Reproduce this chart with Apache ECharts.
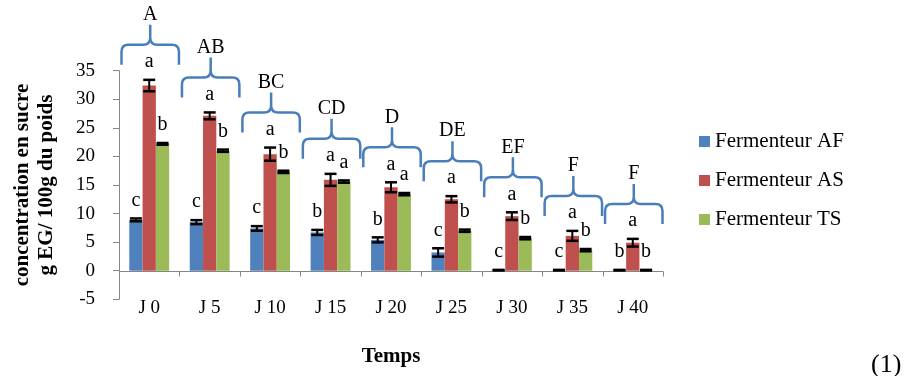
<!DOCTYPE html>
<html>
<head>
<meta charset="utf-8">
<script src="https://cdn.jsdelivr.net/npm/echarts@6/dist/echarts.min.js"></script>
<style>html,body{margin:0;padding:0;background:#fff}#c{width:907px;height:376px}</style>
</head>
<body>
<div id="c"></div>
<script>
const categories = ['J 0','J 5','J 10','J 15','J 20','J 25','J 30','J 35','J 40'];
const seriesNames = ['Fermenteur AF','Fermenteur AS','Fermenteur TS'];
const valuesAF = [8.9, 8.5, 7.4, 6.7, 5.4, 3.2, 0.1, 0.1, 0.1];
const errorsAF = [0.25, 0.35, 0.4, 0.44, 0.44, 0.73, 0.05, 0.05, 0.05];
const valuesAS = [32.4, 27.1, 20.4, 15.9, 14.6, 12.5, 9.55, 6.1, 4.9];
const errorsAS = [1.0, 0.6, 1.15, 1.05, 0.87, 0.55, 0.67, 0.87, 0.67];
const valuesTS = [22.2, 21.0, 17.3, 15.6, 13.4, 7.0, 5.7, 3.6, 0.1];
const errorsTS = [0.15, 0.2, 0.2, 0.2, 0.2, 0.2, 0.2, 0.2, 0.05];
const lettersAF = ['c','c','c','b','b','c','c','c','b'];
const lettersAS = ['a','a','a','a','a','a','a','a','a'];
const lettersTS = ['b','b','b','a','a','b','b','b','b'];
const groupLetters = ['A','AB','BC','CD','D','DE','EF','F','F'];
const yTicks = {min: -5, max: 35, interval: 5};

const FONT = 'Liberation Serif';
const colors = ['#4F81BD', '#C0504D', '#9BBB59'];
const AXIS_GRAY = '#868686';

function errSeries(vals, errs, letters, k) {
  return {
    type: 'custom',
    z: 10,
    clip: false,
    silent: true,
    renderItem: function (params, api) {
      const i = api.value(0), v = api.value(1), e = api.value(2);
      const cw = api.size([1, 0])[0];
      const bw = cw * 0.22;
      const x = api.coord([i, v])[0] + k * bw;
      const yTop = api.coord([i, v + e])[1];
      const yBot = api.coord([i, v - e])[1];
      const cap = bw * 0.45;
      const st = {stroke: '#000', lineWidth: 2.5};
      return {
        type: 'group',
        children: [
          {type: 'line', shape: {x1: x, y1: yTop, x2: x, y2: yBot}, style: {stroke: '#000', lineWidth: 2}},
          {type: 'line', shape: {x1: x - cap, y1: yTop, x2: x + cap, y2: yTop}, style: st},
          {type: 'line', shape: {x1: x - cap, y1: yBot, x2: x + cap, y2: yBot}, style: st},
          {type: 'text', x: x, y: yTop - 18, style: {text: letters[i], fill: '#000', fontSize: 20, fontFamily: FONT, fontWeight: 'normal', align: 'center', verticalAlign: 'middle'}}
        ]
      };
    },
    data: vals.map((v, i) => [i, v, errs[i]])
  };
}

const groupTops = categories.map((c, i) => Math.max(valuesAF[i] + errorsAF[i], valuesAS[i] + errorsAS[i], valuesTS[i] + errorsTS[i]));

const bracketSeries = {
  type: 'custom',
  z: 11,
  clip: false,
  silent: true,
  renderItem: function (params, api) {
    const i = api.value(0), top = api.value(1);
    const cw = api.size([1, 0])[0];
    const c = api.coord([i, top]);
    const cx = c[0] + 1;
    const yh = c[1] - 35;
    const L = cx - cw * 0.475, R = cx + cw * 0.475, r = 7, d = 20, u = 20;
    const p = 'M' + L + ',' + (yh + d) + ' L' + L + ',' + (yh + r) + ' Q' + L + ',' + yh + ' ' + (L + r) + ',' + yh +
      ' L' + (cx - r) + ',' + yh + ' Q' + cx + ',' + yh + ' ' + cx + ',' + (yh - r) + ' L' + cx + ',' + (yh - u) +
      ' M' + cx + ',' + (yh - r) + ' Q' + cx + ',' + yh + ' ' + (cx + r) + ',' + yh +
      ' L' + (R - r) + ',' + yh + ' Q' + R + ',' + yh + ' ' + R + ',' + (yh + r) + ' L' + R + ',' + (yh + d);
    return {
      type: 'group',
      children: [
        {type: 'path', shape: {pathData: p}, style: {stroke: '#4A7EBB', lineWidth: 2.5, fill: null}},
        {type: 'text', x: cx, y: yh - u - 10, style: {text: groupLetters[i], fill: '#000', fontSize: 20, fontFamily: FONT, fontWeight: 'normal', align: 'center', verticalAlign: 'middle'}}
      ]
    };
  },
  data: groupTops.map((t, i) => [i, t])
};

// zero baseline with category-boundary ticks (the category axis crosses the value axis at 0)
const zeroAxisSeries = {
  type: 'custom',
  z: 5,
  clip: false,
  silent: true,
  renderItem: function (params, api) {
    const i = api.value(0);
    const cw = api.size([1, 0])[0];
    const c = api.coord([i, 0]);
    const xl = c[0] - cw / 2, xr = c[0] + cw / 2, y = Math.round(c[1]) + 0.5;
    return {
      type: 'group',
      children: [
        {type: 'line', shape: {x1: xl, y1: y, x2: xr, y2: y}, style: {stroke: AXIS_GRAY, lineWidth: 1}},
        {type: 'line', shape: {x1: Math.round(xr) + 0.5, y1: y, x2: Math.round(xr) + 0.5, y2: y + 5}, style: {stroke: AXIS_GRAY, lineWidth: 1}}
      ]
    };
  },
  data: categories.map((c, i) => [i, 0])
};

function barSeries(name, data, color) {
  return {type: 'bar', name: name, data: data, barGap: '0%', barCategoryGap: '34%', z: 2, itemStyle: {color: color}};
}

const chart = echarts.init(document.getElementById('c'), null, {renderer: 'canvas'});
chart.setOption({
  animation: false,
  backgroundColor: '#fff',
  textStyle: {fontFamily: FONT, fontWeight: 'normal', color: '#000'},
  title: {
    text: '(1)', left: 866, top: 347,
    textStyle: {fontFamily: FONT, fontSize: 26, fontWeight: 'normal', color: '#000'}
  },
  legend: {
    data: seriesNames,
    orient: 'vertical',
    left: 694, top: 126,
    itemWidth: 11, itemHeight: 11, itemGap: 18,
    icon: 'rect',
    textStyle: {fontFamily: FONT, fontSize: 21, fontWeight: 'normal', lineHeight: 21, color: '#000'}
  },
  grid: {left: 119, right: 244, top: 70.7, bottom: 76.7, containLabel: false, outerBoundsMode: 'none'},
  xAxis: {
    type: 'category',
    data: categories,
    name: 'Temps',
    nameLocation: 'middle',
    nameGap: 47,
    nameTextStyle: {fontFamily: FONT, fontSize: 21, fontWeight: 'bold', color: '#000'},
    axisLine: {show: false, onZero: false},
    axisTick: {show: false},
    axisLabel: {margin: -1, fontFamily: FONT, fontSize: 19, fontWeight: 'normal', color: '#000'},
    splitLine: {show: false}
  },
  yAxis: {
    type: 'value',
    min: yTicks.min, max: yTicks.max, interval: yTicks.interval,
    name: 'concentration en sucre\ng EG/ 100g du poids',
    nameLocation: 'middle',
    nameGap: 60,
    nameRotate: 90,
    nameTextStyle: {fontFamily: FONT, fontSize: 21, fontWeight: 'bold', color: '#000', lineHeight: 24},
    axisLine: {show: true, onZero: false, lineStyle: {color: AXIS_GRAY, width: 1}},
    axisTick: {show: true, length: 6, lineStyle: {color: AXIS_GRAY}},
    axisLabel: {margin: 24, fontFamily: FONT, fontSize: 19, fontWeight: 'normal', color: '#000'},
    splitLine: {show: false}
  },
  series: [
    zeroAxisSeries,
    barSeries(seriesNames[0], valuesAF, colors[0]),
    barSeries(seriesNames[1], valuesAS, colors[1]),
    barSeries(seriesNames[2], valuesTS, colors[2]),
    errSeries(valuesAF, errorsAF, lettersAF, -1),
    errSeries(valuesAS, errorsAS, lettersAS, 0),
    errSeries(valuesTS, errorsTS, lettersTS, 1),
    bracketSeries
  ]
});
</script>
</body>
</html>
